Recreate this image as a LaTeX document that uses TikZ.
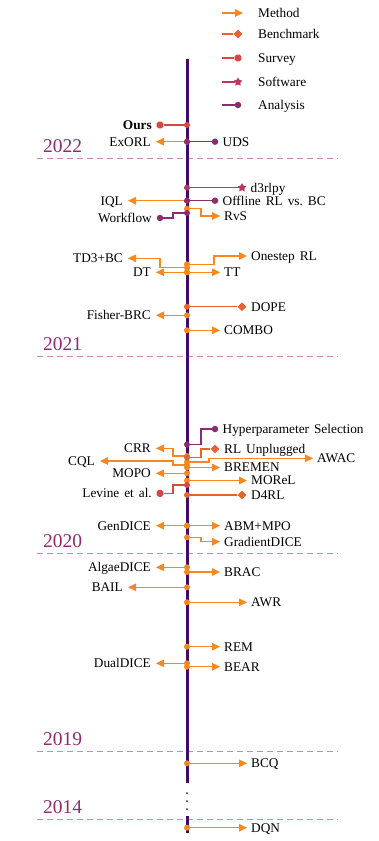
\documentclass[tikz,border=0pt]{standalone}
\usepackage{fontspec}
\setmainfont{Liberation Serif}[WordSpace=1.5]
\usetikzlibrary{arrows.meta,shapes.geometric}
\definecolor{cM}{HTML}{F7871E}
\definecolor{cB}{HTML}{E6622E}
\definecolor{cS}{HTML}{D5473F}
\definecolor{cW}{HTML}{B8385E}
\definecolor{cA}{HTML}{8E2A6E}
\definecolor{cAx}{HTML}{410B66}
\definecolor{cY}{HTML}{8E2A6E}
\definecolor{cD}{HTML}{C88CB4}
\pgfdeclarelayer{front}
\pgfsetlayers{main,front}
\begin{document}
\begin{tikzpicture}[x=1pt,y=-1pt,
  lbl/.style={inner sep=0pt, font=\fontsize{13.3}{15}\selectfont\frenchspacing},
  labR/.style={lbl, anchor=base west, xshift=4pt, yshift=-4.3pt},
  labL/.style={lbl, anchor=base east, xshift=-5pt, yshift=-4.3pt},
  labRM/.style={lbl, anchor=base west, xshift=7.5pt, yshift=-4.3pt},
  labLM/.style={lbl, anchor=base east, xshift=-8pt, yshift=-4.3pt},
  labRD/.style={lbl, anchor=base west, xshift=9pt, yshift=-4.3pt},
  conn/.style={line width=1.2pt, draw=#1},
  arr/.style={conn=cM, -{Triangle[length=8pt,width=7.5pt]}},
  axdot/.style={circle, fill=#1, inner sep=0pt, minimum size=6pt},
  mA/.style={circle, fill=cA, inner sep=0pt, minimum size=6.5pt},
  mS/.style={regular polygon, regular polygon sides=8, fill=cS, inner sep=0pt, minimum size=7.5pt},
  mB/.style={diamond, fill=cB, inner sep=0pt, minimum size=9pt},
  mW/.style={star, star points=5, star point ratio=1.8, fill=cW, inner sep=0pt, minimum size=9pt},
  yr/.style={inner sep=0pt, anchor=base west, text=cY, font=\fontsize{19.5}{22}\selectfont},
  yrline/.style={draw=cD, line width=1pt, dash pattern=on 6pt off 4pt},
]
\useasboundingbox (0,0) rectangle (378,841);

% year separators
\foreach \id/\y in {2022/158, 2021/356, 2020/553, 2019/751, 2014/819} {
  \coordinate (ys\id) at (37,\y);
  \coordinate (ye\id) at (338,\y);
  \draw[yrline] (ys\id) -- (ye\id);
  \node[yr] (y\id) at (43,\y-6) {\id};
}

% axis
\coordinate (axTop) at (187,59);
\coordinate (axBot) at (187,783);
\draw[line width=3pt, cAx] (axTop) -- (axBot);
\coordinate (axTopB) at (187,816);
\coordinate (axBotB) at (187,833);
\draw[line width=3pt, cAx] (axTopB) -- (axBotB);
\foreach \y in {793,801,809} { \fill[cAx] (187,\y) circle (1pt); }

% legend
\coordinate (gM0) at (222,13); \coordinate (gM1) at (243,13);
\draw[arr] (gM0) -- (gM1);
\node[lbl, anchor=base west] (gMt) at (258,17.3) {Method};
\coordinate (gB0) at (222,34); \node[mB] (gB1) at (238,34) {};
\draw[conn=cB] (gB0) -- (gB1);
\node[lbl, anchor=base west] (gBt) at (258,38.3) {Benchmark};
\coordinate (gS0) at (222,58); \node[mS] (gS1) at (238,58) {};
\draw[conn=cS] (gS0) -- (gS1);
\node[lbl, anchor=base west] (gSt) at (258,62.3) {Survey};
\coordinate (gW0) at (222,82); \node[mW] (gW1) at (238,82) {};
\draw[conn=cW] (gW0) -- (gW1);
\node[lbl, anchor=base west] (gWt) at (258,86.3) {Software};
\coordinate (gA0) at (222,105); \node[mA] (gA1) at (238,105) {};
\draw[conn=cA] (gA0) -- (gA1);
\node[lbl, anchor=base west] (gAt) at (258,109.3) {Analysis};

% straight method arrows, right
\foreach \id/\y/\tx/\txt in {TT/272.3/220/TT, COMBO/330.3/220/COMBO, BREMEN/467.5/220/BREMEN,
  MOReL/480.5/247/MOReL, ABM/525.7/220/ABM+MPO, BRAC/572/220/BRAC, AWR/602.3/247/AWR,
  REM/646.7/220/REM, BEAR/666.7/220/BEAR, BCQ/763.3/247/BCQ, DQN/827.7/247/DQN} {
  \coordinate (a\id) at (187,\y);
  \coordinate (t\id) at (\tx,\y);
  \node[labR] (l\id) at (t\id) {\txt};
  \draw[arr] (a\id) -- (t\id);
  \begin{pgfonlayer}{front}\node[axdot=cM] (d\id) at (a\id) {};\end{pgfonlayer}
}
% straight method arrows, left
\foreach \id/\y/\tx/\txt in {ExORL/141.7/156/ExORL, IQL/200.7/128/IQL, DT/272.3/156/DT,
  Fisher/315.3/156/Fisher-BRC, MOPO/473.3/156/MOPO, GenDICE/525.7/156/GenDICE,
  Algae/567.3/156/AlgaeDICE, BAIL/587.3/128/BAIL, DualDICE/663.3/156/DualDICE} {
  \coordinate (a\id) at (187,\y);
  \coordinate (t\id) at (\tx,\y);
  \node[labL] (l\id) at (t\id) {\txt};
  \draw[arr] (a\id) -- (t\id);
  \begin{pgfonlayer}{front}\node[axdot=cM] (d\id) at (a\id) {};\end{pgfonlayer}
}
% bent method arrows, right
\foreach \id/\y/\dx/\yy/\tx/\txt in {RvS/208.7/14/216/220/RvS, Onestep/264.3/27/256/247/Onestep RL,
  AWAC/462/22/458.3/313/AWAC, GradDICE/537.3/14/541.7/220/GradientDICE} {
  \coordinate (a\id) at (187,\y);
  \coordinate (t\id) at (\tx,\yy);
  \node[labR] (l\id) at (t\id) {\txt};
  \draw[arr] (a\id) -- ++(\dx,0) |- (t\id);
  \begin{pgfonlayer}{front}\node[axdot=cM] (d\id) at (a\id) {};\end{pgfonlayer}
}
% bent method arrows, left
\foreach \id/\y/\dx/\yy/\tx/\txt in {TDBC/267.7/27/258.3/128/TD3+BC, CRR/456/14/448.3/156/CRR,
  CQL/465/14/461/100/CQL} {
  \coordinate (a\id) at (187,\y);
  \coordinate (t\id) at (\tx,\yy);
  \node[labL] (l\id) at (t\id) {\txt};
  \draw[arr] (a\id) -- ++(-\dx,0) |- (t\id);
  \begin{pgfonlayer}{front}\node[axdot=cM] (d\id) at (a\id) {};\end{pgfonlayer}
}

% benchmarks
\foreach \id/\y/\txt in {DOPE/306.7/DOPE, DFRL/495/D4RL} {
  \coordinate (a\id) at (187,\y);
  \node[mB] (m\id) at (242,\y) {};
  \node[labRD] (l\id) at (m\id) {\txt};
  \draw[conn=cB] (a\id) -- (m\id);
  \begin{pgfonlayer}{front}\node[axdot=cB] (d\id) at (a\id) {};\end{pgfonlayer}
}
\coordinate (aRLU) at (187,457.5);
\node[mB] (mRLU) at (215,449) {};
\node[labRD] (lRLU) at (mRLU) {RL Unplugged};
\draw[conn=cB] (aRLU) -- ++(14,0) |- (mRLU);
\begin{pgfonlayer}{front}\node[axdot=cB] (dRLU) at (aRLU) {};\end{pgfonlayer}

% surveys
\coordinate (aOurs) at (187,125);
\node[mS] (mOurs) at (160,125) {};
\node[labLM, font=\fontsize{13.3}{15}\selectfont\bfseries] (lOurs) at (mOurs) {Ours};
\draw[conn=cS] (aOurs) -- (mOurs);
\begin{pgfonlayer}{front}\node[axdot=cS] (dOurs) at (aOurs) {};\end{pgfonlayer}
\coordinate (aLev) at (187,485);
\node[mS] (mLev) at (160,493.3) {};
\node[labLM] (lLev) at (mLev) {Levine et al.};
\draw[conn=cS] (aLev) -- ++(-14,0) |- (mLev);
\begin{pgfonlayer}{front}\node[axdot=cS] (dLev) at (aLev) {};\end{pgfonlayer}

% software
\coordinate (aD3) at (187,187.7);
\node[mW] (mD3) at (242,187.7) {};
\node[labRM, xshift=1pt] (lD3) at (mD3) {d3rlpy};
\draw[conn=cW] (aD3) -- (mD3);
\begin{pgfonlayer}{front}\node[axdot=cW] (dD3) at (aD3) {};\end{pgfonlayer}

% analyses
\foreach \id/\y/\txt in {UDS/141.7/UDS, ORL/200.7/Offline RL vs. BC} {
  \coordinate (a\id) at (187,\y);
  \node[mA] (m\id) at (215,\y) {};
  \node[labRM] (l\id) at (m\id) {\txt};
  \draw[conn=cA] (a\id) -- (m\id);
  \begin{pgfonlayer}{front}\node[axdot=cA] (d\id) at (a\id) {};\end{pgfonlayer}
}
\coordinate (aWF) at (187,213);
\node[mA] (mWF) at (160,218) {};
\node[labLM] (lWF) at (mWF) {Workflow};
\draw[conn=cA] (aWF) -- ++(-14,0) |- (mWF);
\begin{pgfonlayer}{front}\node[axdot=cA] (dWF) at (aWF) {};\end{pgfonlayer}
\coordinate (aHP) at (187,444.5);
\node[mA] (mHP) at (215,429) {};
\node[labRM] (lHP) at (mHP) {Hyperparameter Selection};
\draw[conn=cA] (aHP) -- ++(14,0) |- (mHP);
\begin{pgfonlayer}{front}\node[axdot=cA] (dHP) at (aHP) {};\end{pgfonlayer}
\end{tikzpicture}
\end{document}
